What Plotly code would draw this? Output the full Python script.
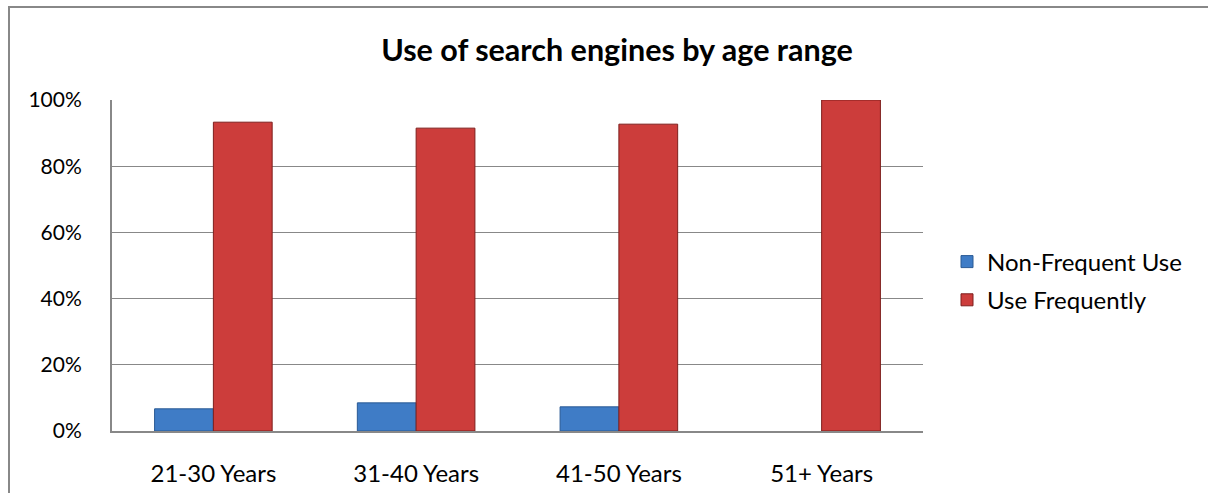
import plotly.graph_objects as go

categories = ["21-30 Years", "31-40 Years", "41-50 Years", "51+ Years"]
non_frequent = [0.067, 0.085, 0.073, 0.0]
use_frequently = [0.933, 0.915, 0.927, 1.0]
y_ticks = [0, 0.2, 0.4, 0.6, 0.8, 1.0]
y_tick_labels = ["0%", "20%", "40%", "60%", "80%", "100%"]

W, H = 1208, 493
ML, MR, MT, MB = 112, 285, 100, 62
PW = W - ML - MR
PH = H - MT - MB

def px_x(p):
    return (p - ML) / PW

def px_y(p):
    return (H - MB - p) / PH

FONT = "Lato"
BORDER = dict(color="#888888", width=2)

fig = go.Figure()
fig.add_trace(go.Bar(
    x=categories, y=non_frequent, name="Non-Frequent Use", legendgroup="a",
    marker=dict(color="#3F7CC6",
                line=dict(color="#2A5A94", width=[1 if v > 0 else 0 for v in non_frequent])),
))
fig.add_trace(go.Bar(
    x=categories, y=use_frequently, name="Use Frequently", legendgroup="b",
    marker=dict(color="#CC3D3B", line=dict(color="#7E1F1D", width=1)),
))

fig.update_layout(
    width=W, height=H,
    margin=dict(l=ML, r=MR, t=MT, b=MB, autoexpand=False),
    paper_bgcolor="white", plot_bgcolor="white",
    barmode="group", bargap=0.42, bargroupgap=0,
    title=dict(text="<b>Use of search engines by age range</b>",
               x=px_x(617), xref="paper", xanchor="center",
               y=1 - 50 / H, yref="container", yanchor="middle",
               font=dict(family=FONT, size=30.5, color="black")),
    font=dict(family=FONT, size=18, color="black"),
    legend=dict(x=px_x(947), y=px_y(281), xanchor="left", yanchor="middle",
                font=dict(family=FONT, size=24, color="black"),
                bgcolor="rgba(0,0,0,0)", traceorder="grouped", tracegroupgap=4),
    showlegend=True,
    shapes=[
        dict(type="line", xref="paper", yref="paper",
             x0=px_x(8), x1=px_x(1300), y0=px_y(7), y1=px_y(7),
             line=BORDER, layer="above"),
        dict(type="line", xref="paper", yref="paper",
             x0=px_x(9), x1=px_x(9), y0=px_y(6), y1=px_y(600),
             line=BORDER, layer="above"),
    ],
)
fig.update_xaxes(showgrid=False, showline=True, linecolor="#888888", linewidth=2,
                 ticks="", ticklabelstandoff=20, automargin=False,
                 tickfont=dict(family=FONT, size=24, color="black"))
fig.update_yaxes(range=[0, 1.0], tickvals=y_ticks, ticktext=y_tick_labels,
                 showgrid=True, gridcolor="#888888", gridwidth=1,
                 showline=True, linecolor="#888888", linewidth=2,
                 zeroline=False, ticks="", ticklabelstandoff=24, automargin=False,
                 tickfont=dict(family=FONT, size=21, color="black"))

fig.write_html(
    "out.html", config={"displayModeBar": False},
    post_script="document.body.style.margin='0';"
                "document.documentElement.style.overflow='hidden';"
                "document.body.style.overflow='hidden';",
)
